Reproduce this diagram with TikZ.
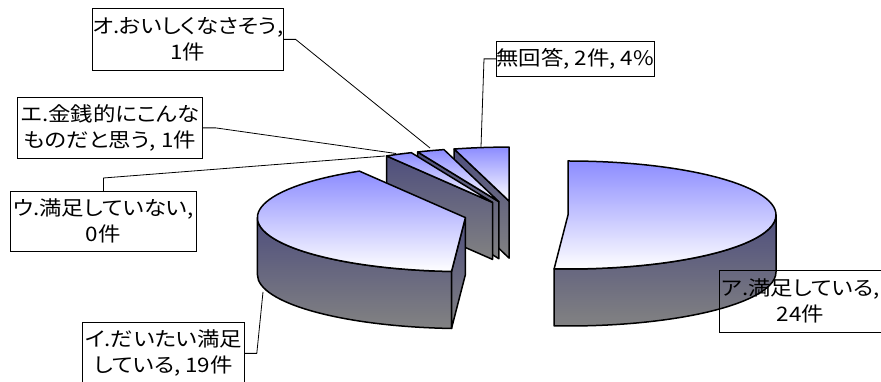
\documentclass[tikz,border=0pt]{standalone}
\usepackage{fontspec}
\setmainfont{Noto Sans CJK JP}[FakeStretch=1.12,RawFeature=+palt]
\usetikzlibrary{calc}
\definecolor{topblue}{RGB}{140,140,255}
\definecolor{sidetop}{RGB}{78,78,125}
\definecolor{sidebot}{RGB}{130,130,130}
\tikzset{
  topface/.style={draw=black,line width=1.5pt,line join=round,top color=topblue,middle color=white!56!topblue,bottom color=white},
  sideface/.style={draw=black,line width=1.5pt,line join=round,top color=sidetop,bottom color=sidebot},
  lbl/.style={draw=black,line width=0.8pt,align=center,inner sep=0pt,anchor=north west,font=\fontsize{20}{26}\selectfont},
  conn/.style={draw=black,line width=0.8pt},
  el/.style={x radius=208pt,y radius=54pt}
}
\begin{document}
\begin{tikzpicture}[x=1pt,y=1pt]
\path[fill=white,use as bounding box] (0,0) rectangle (881,382);
% slice centres
\coordinate (cA) at (568,167);
\coordinate (cI) at (465.4,164.4);
\coordinate (cE) at (492.5,179.6);
\coordinate (cO) at (498.9,180.3);
\coordinate (cN) at (509.1,180.9);
% --- 無回答 ---
\path[sideface] (cN) -- ++(105.32:208pt and 54pt) -- ++(0,-57) -- ([yshift=-57pt]cN) -- cycle;
\path[topface] (cN) -- ++(90:208pt and 54pt) arc[start angle=90,end angle=105.32,el] -- cycle;
% --- オ ---
\path[sideface] (cO) -- ++(112.98:208pt and 54pt) -- ++(0,-57) -- ([yshift=-57pt]cO) -- cycle;
\path[topface] (cO) -- ++(105.32:208pt and 54pt) arc[start angle=105.32,end angle=112.98,el] -- cycle;
% --- エ ---
\path[sideface] (cE) -- ++(120.64:208pt and 54pt) -- ++(0,-57) -- ([yshift=-57pt]cE) -- cycle;
\path[topface] (cE) -- ++(112.98:208pt and 54pt) arc[start angle=112.98,end angle=120.64,el] -- cycle;
% --- イ ---
\path[sideface] (cI) ++(180:208pt and 54pt) arc[start angle=180,end angle=266.17,el] -- ++(0,-57) arc[start angle=266.17,end angle=180,el] -- cycle;
\path[sideface] (cI) -- ++(266.17:208pt and 54pt) -- ++(0,-57) -- ([yshift=-57pt]cI) -- cycle;
\path[topface] (cI) -- ++(120.64:208pt and 54pt) arc[start angle=120.64,end angle=266.17,el] -- cycle;
% --- ア ---
\path[sideface] (cA) ++(-93.83:208pt and 54pt) arc[start angle=-93.83,end angle=0,el] -- ++(0,-57) arc[start angle=0,end angle=-93.83,el] -- cycle;
\path[topface] (cA) -- ++(90:208pt and 54pt) arc[start angle=90,end angle=-93.83,el] -- cycle;
% label tips
\coordinate (tipO) at (430,234);
\coordinate (tipE) at (396,228.5);
\coordinate (tipU) at (385,226);
\coordinate (tipN) at (481,235);
\coordinate (tipI) at (263,90);
% labels
\node[lbl,minimum width=189pt,minimum height=62pt] (lO) at (92,374) {オ.おいしくなさそう,\\1件};
\node[lbl,minimum width=185pt,minimum height=61pt] (lE) at (17,285) {エ.金銭的にこんな\\ものだと思う, 1件};
\node[lbl,minimum width=186pt,minimum height=60pt] (lU) at (10,191) {ウ.満足していない,\\0件};
\node[lbl,minimum width=157pt,minimum height=35pt] (lN) at (496,341) {無回答, 2件, 4\%};
\node[lbl,minimum width=162pt,minimum height=62pt] (lA) at (719,112) {ア.満足している,\\24件};
\node[lbl,minimum width=162pt,minimum height=62pt] (lI) at (82,60) {イ.だいたい満足\\している, 19件};
% connectors
\draw[conn] (lO.east) -- ++(12,0) -- (tipO);
\draw[conn] (lE.east) -- ++(13,0) -- (tipE);
\draw[conn] (lU.north) -- ++(0,13) -- (tipU);
\draw[conn] (lN.west) -- ++(-12,0) -- (tipN);
\draw[conn] (lI.east) -- ++(12,0) -- (tipI);
\end{tikzpicture}
\end{document}
